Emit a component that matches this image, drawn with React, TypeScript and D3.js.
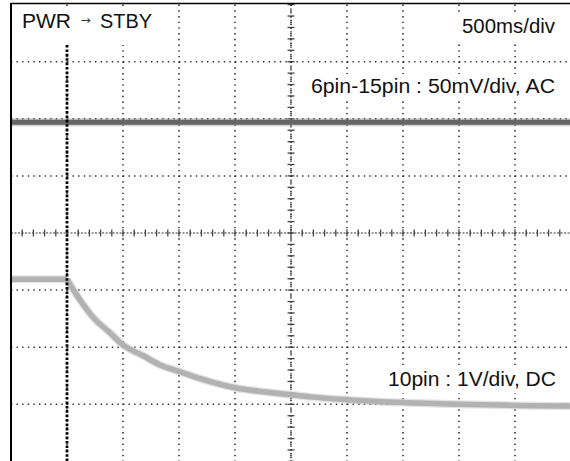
import React from "react";
import * as d3 from "d3";

// time relative to trigger (ms), 500 ms/div; levels in divisions from centre
const timeDomain = [-500, 4500];
const levelDomain = [-4, 4];

const ch1Times = [-500, 4500];
const ch1Levels = [1.94, 1.94];

const ch2FlatTimes = [-500, 0];
const ch2FlatLevels = [-0.81, -0.81];
const ch2Times = [0, 115, 230, 385, 500, 680, 830, 1010, 1190, 1500, 1750, 1990, 2170, 2500, 3000, 3500, 4000, 4500];
const ch2Levels = [-0.81, -1.17, -1.47, -1.75, -1.96, -2.15, -2.31, -2.43, -2.55, -2.71, -2.78, -2.83, -2.87, -2.92, -2.97, -3.0, -3.02, -3.03];

const gridTimes = [0, 500, 1000, 1500, 2000, 2500, 3000, 3500, 4000];
const gridLevels = [3, 2, 1, -1, -2, -3];
const triggerTime = 0;

const titleLeft = "PWR";
const titleArrow = "→";
const titleRight = "STBY";
const timeLabel = "500ms/div";
const ch1Label = "6pin-15pin : 50mV/div, AC";
const ch2Label = "10pin : 1V/div, DC";

export default function App() {
  const W = 570, H = 461;
  const x = d3.scaleLinear().domain(timeDomain).range([11, 571]);
  const y = d3.scaleLinear().domain(levelDomain).range([461.4, 4.6]);
  const line = d3
    .line<[number, number]>()
    .x((d) => x(d[0]))
    .y((d) => y(d[1]))
    .curve(d3.curveMonotoneX);
  const ch1 = ch1Times.map((t, i) => [t, ch1Levels[i]] as [number, number]);
  const ch2a = ch2FlatTimes.map((t, i) => [t, ch2FlatLevels[i]] as [number, number]);
  const ch2b = ch2Times.map((t, i) => [t, ch2Levels[i]] as [number, number]);

  const minorT = d3.range(-500, 4500 + 1, 100);
  const minorL = d3.range(-4, 4.001, 0.2);
  const xc = x(2000);
  const yc = y(0);
  const font = "Liberation Sans, Arial, sans-serif";

  const traces = (
    <g fill="none" strokeLinejoin="round">
      <path d={line(ch1) || ""} stroke="#8a8a8a" strokeWidth={8} strokeOpacity={0.4} />
      <path d={line(ch1) || ""} stroke="#666" strokeWidth={5} />
      {[ch2a, ch2b].map((seg, i) => (
        <g key={i}>
          <path d={line(seg) || ""} stroke="#c8c8c8" strokeWidth={8} strokeOpacity={0.5} />
          <path d={line(seg) || ""} stroke="#b2b2b2" strokeWidth={5.5} />
        </g>
      ))}
    </g>
  );

  return (
    <svg
      width={W}
      height={H}
      style={{ position: "absolute", left: 0, top: 0, background: "#fff" }}
      fontFamily={font}
    >
      <rect x={0} y={0} width={W} height={H} fill="#fff" />
      {/* dotted grid */}
      {gridTimes.map((t) => (
        <line
          key={"gv" + t}
          x1={x(t)}
          x2={x(t)}
          y1={y(4)}
          y2={H}
          stroke="#222"
          strokeWidth={1.5}
          strokeDasharray="1.4 4.3"
        />
      ))}
      {gridLevels.map((l) => (
        <line
          key={"gh" + l}
          x1={x(-500)}
          x2={W}
          y1={y(l)}
          y2={y(l)}
          stroke="#333"
          strokeWidth={1.5}
          strokeDasharray="1.4 4.2"
        />
      ))}
      {/* centre axes with ticks */}
      <line x1={x(-500)} x2={W} y1={yc} y2={yc} stroke="#777" strokeWidth={1.5} strokeDasharray="2 1.5" />
      <line x1={xc} x2={xc} y1={y(4)} y2={H} stroke="#222" strokeWidth={1.5} strokeDasharray="1.4 2.4" />
      {minorT.map((t) => (
        <line key={"tx" + t} x1={x(t)} x2={x(t)} y1={yc - 3.5} y2={yc + 3.5} stroke="#444" strokeWidth={1.3} />
      ))}
      {minorL.map((l) => (
        <line key={"ty" + l} x1={xc - 3.5} x2={xc + 3.5} y1={y(l)} y2={y(l)} stroke="#444" strokeWidth={1.3} />
      ))}
      {/* label backgrounds */}
      <rect x={14} y={8} width={144} height={37} fill="#fff" />
      <rect x={457} y={12} width={104} height={30} fill="#fff" />
      <rect x={306} y={74} width={255} height={26} fill="#fff" />
      <rect x={384} y={367} width={177} height={26} fill="#fff" />
      {traces}
      {/* trigger marker */}
      <line
        x1={x(triggerTime)}
        x2={x(triggerTime)}
        y1={45}
        y2={H}
        stroke="#000"
        strokeWidth={2.8}
        strokeDasharray="2.6 1.8"
      />
      {/* frame */}
      <line x1={11} x2={W} y1={3.5} y2={3.5} stroke="#000" strokeWidth={1.6} />
      <line x1={11} x2={11} y1={3} y2={H} stroke="#000" strokeWidth={2} />
      {/* labels */}
      <text x={22} y={28} fontSize={20} fill="#111" textLength={49} lengthAdjust="spacingAndGlyphs">
        {titleLeft}
      </text>
      <text x={80.5} y={24} fontSize={12} fill="#333" fontFamily="DejaVu Sans">
        {titleArrow}
      </text>
      <text x={100} y={28} fontSize={20} fill="#111" textLength={52} lengthAdjust="spacingAndGlyphs">
        {titleRight}
      </text>
      <text x={462} y={33} fontSize={19.5} fill="#111" textLength={93} lengthAdjust="spacingAndGlyphs">
        {timeLabel}
      </text>
      <text x={311} y={93} fontSize={19.5} fill="#111" textLength={244} lengthAdjust="spacingAndGlyphs">
        {ch1Label}
      </text>
      <text x={388} y={386} fontSize={19.5} fill="#111" textLength={168} lengthAdjust="spacingAndGlyphs">
        {ch2Label}
      </text>
    </svg>
  );
}
